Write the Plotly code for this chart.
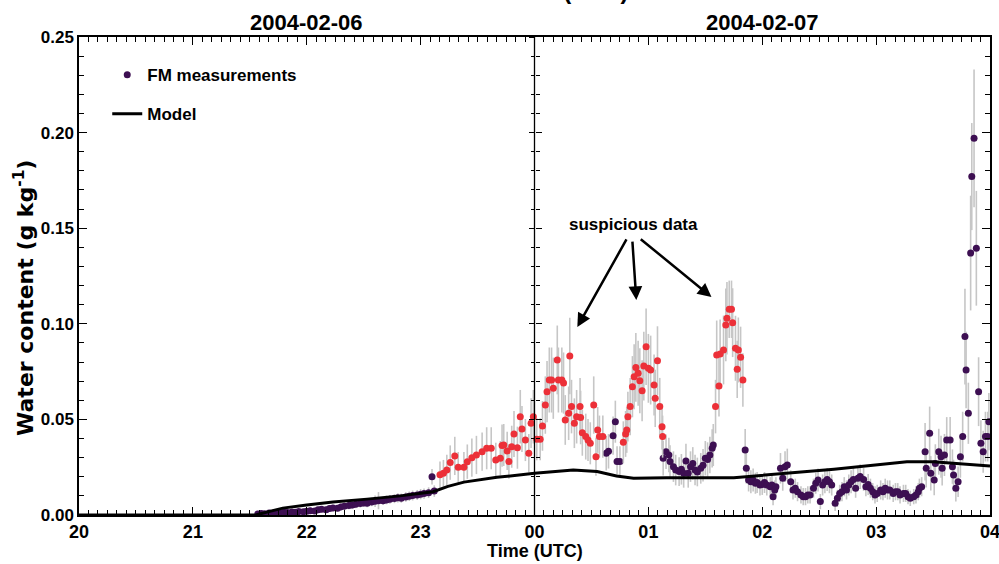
import plotly.graph_objects as go

# ---------------- data ----------------
# time in hours after 2004-02-06 00:00 UTC (24 = 2004-02-07 00:00)
fm_time = [
    21.57, 21.60, 21.63, 21.67, 21.70, 21.73, 21.77, 21.80, 21.83, 21.87, 21.90, 21.93, 21.97,
    22.00, 22.03, 22.07, 22.10, 22.13, 22.17, 22.20, 22.23, 22.27, 22.30, 22.33, 22.37, 22.40,
    22.43, 22.47, 22.50, 22.53, 22.57, 22.60, 22.63, 22.67, 22.70, 22.73, 22.77, 22.80, 22.83,
    22.87, 22.90, 22.93, 22.97, 23.00, 23.03, 23.07, 23.10, 23.12,
    24.63, 24.65, 24.69, 24.71, 24.725, 24.75,
    25.13, 25.155, 25.18, 25.19, 25.22, 25.24, 25.27, 25.29, 25.31, 25.33, 25.35, 25.37, 25.39,
    25.41, 25.43, 25.46, 25.48, 25.50, 25.52, 25.54, 25.56, 25.57,
    25.85, 25.86, 25.88, 25.90, 25.92, 25.94, 25.955, 25.98, 26.00, 26.02, 26.04, 26.07, 26.085,
    26.095, 26.11, 26.12, 26.16, 26.18, 26.20, 26.22, 26.25, 26.27, 26.29, 26.31, 26.34, 26.36,
    26.38, 26.40, 26.42, 26.45, 26.47, 26.49, 26.51, 26.53, 26.55, 26.57, 26.59, 26.61, 26.64,
    26.66, 26.68, 26.70, 26.72, 26.74, 26.76, 26.78, 26.80, 26.82, 26.84, 26.86, 26.89, 26.91,
    26.93, 26.95, 26.97, 26.99, 27.01, 27.04, 27.06, 27.08, 27.10, 27.12, 27.15, 27.17, 27.19,
    27.21, 27.24, 27.26, 27.28, 27.30, 27.33, 27.35, 27.37, 27.38, 27.40, 27.43, 27.44, 27.47,
    27.48, 27.51, 27.52, 27.55, 27.57, 27.58, 27.60, 27.62, 27.65, 27.67, 27.68, 27.70, 27.72,
    27.74, 27.76, 27.78, 27.79, 27.81, 27.83, 27.84, 27.86, 27.88, 27.90, 27.92, 27.94, 27.96,
    27.98, 27.99,
]
fm_water = [
    0.0005, 0.0008, 0.0006, 0.0010, 0.0009, 0.0012, 0.0011, 0.0014, 0.0013, 0.0016, 0.0015, 0.0018, 0.0017,
    0.0020, 0.0022, 0.0021, 0.0027, 0.0030, 0.0028, 0.0034, 0.0037, 0.0035, 0.0042, 0.0046, 0.0050, 0.0052,
    0.0056, 0.0060, 0.0063, 0.0061, 0.0068, 0.0072, 0.0075, 0.0074, 0.0079, 0.0082, 0.0086, 0.0090, 0.0088,
    0.0094, 0.0098, 0.0102, 0.0105, 0.0109, 0.0112, 0.0117, 0.0200, 0.0125,
    0.0323, 0.0333, 0.0415, 0.0488, 0.0280, 0.0280,
    0.0297, 0.0331, 0.0314, 0.0280, 0.0253, 0.0235, 0.0227, 0.0239, 0.0218, 0.0282, 0.0218, 0.0253, 0.0270,
    0.0235, 0.0225, 0.0244, 0.0260, 0.0297, 0.0290, 0.0314, 0.0349, 0.0366,
    0.0340, 0.0244, 0.0183, 0.0174, 0.0183, 0.0166, 0.0170, 0.0157, 0.0160, 0.0170, 0.0157, 0.0148, 0.0157,
    0.0096, 0.0131, 0.0148, 0.0244, 0.0192, 0.0253, 0.0262, 0.0174, 0.0131, 0.0140, 0.0122, 0.0105, 0.0096,
    0.0096, 0.0105, 0.0105, 0.0140, 0.0166, 0.0183, 0.0070, 0.0157, 0.0174, 0.0186, 0.0174, 0.0157, 0.0061,
    0.0087, 0.0113, 0.0122, 0.0148, 0.0131, 0.0157, 0.0174, 0.0186, 0.0140, 0.0192, 0.0201, 0.0186, 0.0148,
    0.0160, 0.0140, 0.0122, 0.0105, 0.0113, 0.0131, 0.0122, 0.0140, 0.0131, 0.0131, 0.0113, 0.0122, 0.0122,
    0.0105, 0.0113, 0.0113, 0.0096, 0.0087, 0.0096, 0.0105, 0.0122, 0.0140, 0.0148, 0.0331, 0.0244, 0.0427,
    0.0218, 0.0183, 0.0270, 0.0331, 0.0305, 0.0244, 0.0314, 0.0392, 0.0392, 0.0253, 0.0209, 0.0140, 0.0174,
    0.0305, 0.0410, 0.0933, 0.0758, 0.0532, 0.1370, 0.1770, 0.1970, 0.1395, 0.0645, 0.0375, 0.0331, 0.0410,
    0.0410, 0.0488,
]
fm_error = [
    0.0012, 0.0012, 0.0012, 0.0012, 0.0012, 0.0013, 0.0013, 0.0013, 0.0014, 0.0014, 0.0014, 0.0015, 0.0015,
    0.0016, 0.0016, 0.0016, 0.0017, 0.0017, 0.0017, 0.0018, 0.0018, 0.0018, 0.0019, 0.0019, 0.0020, 0.0020,
    0.0020, 0.0021, 0.0021, 0.0021, 0.0022, 0.0030, 0.0045, 0.0022, 0.0023, 0.0023, 0.0024, 0.0024, 0.0024,
    0.0025, 0.0025, 0.0026, 0.0026, 0.0027, 0.0027, 0.0028, 0.0040, 0.0030,
    0.0090, 0.0090, 0.0100, 0.0110, 0.0080, 0.0080,
    0.0090, 0.0090, 0.0090, 0.0085, 0.0080, 0.0080, 0.0075, 0.0080, 0.0075, 0.0090, 0.0075, 0.0080, 0.0085,
    0.0080, 0.0075, 0.0080, 0.0085, 0.0090, 0.0090, 0.0095, 0.0100, 0.0110,
    0.0110, 0.0080, 0.0060, 0.0060, 0.0060, 0.0055, 0.0055, 0.0055, 0.0055, 0.0055, 0.0055, 0.0050, 0.0055,
    0.0045, 0.0050, 0.0050, 0.0080, 0.0065, 0.0080, 0.0085, 0.0060, 0.0050, 0.0050, 0.0050, 0.0045, 0.0045,
    0.0045, 0.0045, 0.0045, 0.0050, 0.0055, 0.0060, 0.0040, 0.0055, 0.0060, 0.0060, 0.0060, 0.0055, 0.0040,
    0.0045, 0.0045, 0.0050, 0.0050, 0.0050, 0.0055, 0.0060, 0.0060, 0.0050, 0.0060, 0.0065, 0.0060, 0.0050,
    0.0055, 0.0050, 0.0045, 0.0045, 0.0045, 0.0050, 0.0045, 0.0050, 0.0050, 0.0050, 0.0045, 0.0045, 0.0045,
    0.0045, 0.0045, 0.0045, 0.0040, 0.0040, 0.0040, 0.0045, 0.0045, 0.0050, 0.0050, 0.0150, 0.0100, 0.0140,
    0.0090, 0.0080, 0.0100, 0.0120, 0.0110, 0.0090, 0.0110, 0.0120, 0.0120, 0.0090, 0.0080, 0.0070, 0.0080,
    0.0110, 0.0130, 0.0250, 0.0200, 0.0160, 0.0300, 0.0280, 0.0360, 0.0300, 0.0180, 0.0120, 0.0110, 0.0130,
    0.0130, 0.0150,
]

susp_time = [
    23.17, 23.20, 23.23, 23.26, 23.30, 23.33, 23.38, 23.41, 23.45, 23.49, 23.54, 23.58, 23.62, 23.66,
    23.70, 23.715, 23.73, 23.76, 23.775, 23.80, 23.82, 23.85, 23.875, 23.89, 23.92, 23.95, 23.97, 23.99,
    24.02, 24.05, 24.07, 24.095, 24.11, 24.13, 24.15, 24.165, 24.20, 24.21, 24.24, 24.255, 24.27, 24.30,
    24.31, 24.325, 24.35, 24.37, 24.40, 24.405, 24.42, 24.45, 24.47, 24.49, 24.52, 24.54, 24.555, 24.57,
    24.60,
    24.78, 24.80, 24.81, 24.82, 24.84, 24.86, 24.875, 24.89, 24.91, 24.925, 24.945, 24.96, 24.98, 25.00,
    25.02, 25.05, 25.06, 25.08, 25.10, 25.12, 25.125,
    25.59, 25.60, 25.62, 25.63, 25.66, 25.68, 25.69, 25.71, 25.73, 25.74, 25.765, 25.78, 25.79, 25.81,
    25.83,
]
susp_water = [
    0.0210, 0.0218, 0.0235, 0.0274, 0.0309, 0.0250, 0.0250, 0.0279, 0.0300, 0.0314, 0.0331, 0.0349, 0.0349, 0.0288,
    0.0297, 0.0363, 0.0366, 0.0335, 0.0280, 0.0357, 0.0424, 0.0352, 0.0514, 0.0450, 0.0392, 0.0323, 0.0480, 0.0514,
    0.0396, 0.0396, 0.0466, 0.0575, 0.0645, 0.0706, 0.0706, 0.0663, 0.0811, 0.0706, 0.0706, 0.0690, 0.0497, 0.0532,
    0.0832, 0.0567, 0.0480, 0.0514, 0.0567, 0.0510, 0.0430, 0.0410, 0.0392, 0.0375, 0.0575, 0.0305, 0.0445, 0.0410,
    0.0410,
    0.0380, 0.0424, 0.0445, 0.0514, 0.0567, 0.0671, 0.0723, 0.0772, 0.0741, 0.0702, 0.0650, 0.0779, 0.0880, 0.0767,
    0.0758, 0.0680, 0.0610, 0.0807, 0.0567, 0.0462, 0.0410,
    0.0567, 0.0837, 0.0675, 0.0842, 0.0863, 0.0994, 0.1029, 0.1076, 0.1076, 0.1006, 0.0872, 0.0762, 0.0863, 0.0825,
    0.0706,
]
susp_error = [
    0.0070, 0.0070, 0.0080, 0.0090, 0.0100, 0.0080, 0.0080, 0.0090, 0.0100, 0.0100, 0.0100, 0.0110, 0.0110, 0.0090,
    0.0090, 0.0110, 0.0110, 0.0100, 0.0090, 0.0110, 0.0120, 0.0110, 0.0140, 0.0120, 0.0110, 0.0100, 0.0130, 0.0140,
    0.0110, 0.0110, 0.0130, 0.0150, 0.0160, 0.0170, 0.0170, 0.0160, 0.0180, 0.0170, 0.0170, 0.0160, 0.0130, 0.0140,
    0.0200, 0.0140, 0.0130, 0.0140, 0.0150, 0.0140, 0.0120, 0.0120, 0.0110, 0.0110, 0.0150, 0.0100, 0.0120, 0.0110,
    0.0110,
    0.0110, 0.0120, 0.0120, 0.0130, 0.0150, 0.0160, 0.0170, 0.0180, 0.0170, 0.0170, 0.0160, 0.0180, 0.0200, 0.0180,
    0.0180, 0.0160, 0.0150, 0.0180, 0.0150, 0.0120, 0.0110,
    0.0140, 0.0180, 0.0160, 0.0180, 0.0180, 0.0190, 0.0190, 0.0150, 0.0150, 0.0180, 0.0170, 0.0150, 0.0170, 0.0160,
    0.0140,
]

model_time = [20.00, 21.55, 21.65, 21.79, 22.00, 22.23, 22.53, 22.82, 23.11, 23.24, 23.38, 23.67,
              24.00, 24.20, 24.34, 24.55, 24.72, 24.87, 25.16, 25.75, 26.04, 26.63, 27.27, 27.50, 28.00]
model_water = [0.0, 0.0, 0.0015, 0.0036, 0.0052, 0.0068, 0.0083, 0.0100, 0.0122, 0.0150, 0.0172, 0.0197,
               0.0218, 0.0230, 0.0235, 0.0227, 0.0204, 0.0192, 0.0195, 0.0195, 0.0209, 0.0239, 0.0278, 0.0278, 0.0256]

hour_ticks = [20, 21, 22, 23, 24, 25, 26, 27, 28]
hour_labels = ["20", "21", "22", "23", "00", "01", "02", "03", "04"]
y_ticks = [0.0, 0.05, 0.10, 0.15, 0.20, 0.25]
y_labels = ["0.00", "0.05", "0.10", "0.15", "0.20", "0.25"]
date_labels = [(22, "2004-02-06"), (26, "2004-02-07")]

# ---------------- styles ----------------
FONT = "Liberation Sans, Arial, sans-serif"
YT_FONT = "DejaVu Sans, Liberation Sans, sans-serif"
PURPLE = "#3d0f52"
RED = "#ec3038"
GREY = "#c6c6c6"

fig = go.Figure()
fig.add_trace(go.Scatter(
    x=fm_time, y=fm_water, mode="markers", name="FM measurements", legendgroup="fm",
    marker=dict(color=PURPLE, size=7),
    error_y=dict(type="data", array=fm_error, color=GREY, thickness=1.6, width=0),
))
fig.add_trace(go.Scatter(
    x=susp_time, y=susp_water, mode="markers", showlegend=False,
    marker=dict(color=RED, size=7),
    error_y=dict(type="data", array=susp_error, color=GREY, thickness=1.6, width=0),
))
fig.add_trace(go.Scatter(
    x=model_time, y=model_water, mode="lines", name="Model", legendgroup="model",
    line=dict(color="black", width=3),
))
# invisible traces so the midnight tick axes are drawn
for ax in ("y2", "y3"):
    fig.add_trace(go.Scatter(x=[None], y=[None], yaxis=ax, showlegend=False, hoverinfo="skip"))

minor_x = [20 + i / 12 for i in range(0, 97)]
minor_y = [i / 100 for i in range(0, 26)]

fig.update_layout(
    width=999, height=564,
    margin=dict(l=79, r=9, t=37, b=49, autoexpand=False),
    paper_bgcolor="white", plot_bgcolor="white",
    font=dict(family=FONT, color="black", weight="bold"),
    xaxis=dict(
        range=[20, 28], tickmode="array", tickvals=hour_ticks, ticktext=hour_labels,
        ticks="inside", ticklen=8, tickwidth=1.3, tickcolor="black",
        minor=dict(tickmode="array", tickvals=minor_x, ticks="inside", ticklen=5, tickwidth=1, tickcolor="black"),
        showline=True, linecolor="black", linewidth=1.5, mirror="ticks",
        showgrid=False, zeroline=False, ticklabeloverflow="allow", automargin=False,
        tickfont=dict(family=FONT, size=18, color="black", weight="bold"),
    ),
    yaxis=dict(
        range=[0, 0.25], tickmode="array", tickvals=y_ticks, ticktext=y_labels,
        ticks="inside", ticklen=8, tickwidth=1.3, tickcolor="black",
        minor=dict(tickmode="array", tickvals=minor_y, ticks="inside", ticklen=5, tickwidth=1, tickcolor="black"),
        showline=True, linecolor="black", linewidth=1.5, mirror="ticks",
        showgrid=False, zeroline=False, ticklabeloverflow="allow", automargin=False,
        tickfont=dict(family=FONT, size=17, color="black", weight="bold"),
    ),
    yaxis2=dict(
        overlaying="y", anchor="free", position=0.5, range=[0, 0.25],
        tickmode="array", tickvals=y_ticks, showticklabels=False,
        ticks="outside", ticklen=6, tickwidth=1.3, tickcolor="black",
        minor=dict(tickmode="array", tickvals=minor_y, ticks="outside", ticklen=4, tickwidth=1, tickcolor="black"),
        showline=False, showgrid=False, zeroline=False, automargin=False,
    ),
    yaxis3=dict(
        overlaying="y", anchor="free", position=0.5, range=[0, 0.25],
        tickmode="array", tickvals=y_ticks, showticklabels=False,
        ticks="inside", ticklen=6, tickwidth=1.3, tickcolor="black",
        minor=dict(tickmode="array", tickvals=minor_y, ticks="inside", ticklen=4, tickwidth=1, tickcolor="black"),
        showline=False, showgrid=False, zeroline=False, automargin=False,
    ),
    showlegend=True,
    legend=dict(
        x=0.031, y=0.958, xanchor="left", yanchor="top",
        bgcolor="rgba(0,0,0,0)", borderwidth=0, tracegroupgap=14,
        font=dict(family=FONT, size=17, color="black", weight="bold"),
    ),
)

# midnight separator line
fig.add_shape(type="line", x0=24, x1=24, xref="x", y0=0, y1=1, yref="paper",
              line=dict(color="black", width=1.3))

# date labels
for xd, txt in date_labels:
    fig.add_annotation(x=xd, xref="x", y=1.031, yref="paper", text=txt, showarrow=False,
                       yanchor="middle", font=dict(family=FONT, size=22, color="black", weight="bold"))

# top (cropped) axis title
fig.add_annotation(x=0.533, xref="paper", y=1.064, yref="paper", text="Time (UTC)", showarrow=False,
                   yanchor="bottom", font=dict(family=FONT, size=24, color="black", weight="bold"))
# bottom axis title
fig.add_annotation(x=24, xref="x", y=-0.076, yref="paper", text="Time (UTC)", showarrow=False,
                   yanchor="middle", font=dict(family=FONT, size=18, color="black", weight="bold"))
# y axis title
fig.add_annotation(x=-0.0604, xref="paper", y=0.454, yref="paper", text="Water content (g kg<sup>-1</sup>)",
                   showarrow=False, textangle=-90, xanchor="center", yanchor="middle",
                   font=dict(family=YT_FONT, size=22, color="black", weight="bold"))

# suspicious data annotation
fig.add_annotation(x=24.87, xref="x", y=0.152, yref="y", text="suspicious data", showarrow=False,
                   font=dict(family=FONT, size=17, color="black", weight="bold"))
arrows = [((24.815, 0.1449), (24.376, 0.0983)),
          ((24.859, 0.1438), (24.894, 0.1124)),
          ((24.92, 0.1449), (25.554, 0.1140))]
for (tx, ty), (hx, hy) in arrows:
    fig.add_annotation(x=hx, y=hy, xref="x", yref="y", ax=tx, ay=ty, axref="x", ayref="y",
                       text="", showarrow=True, arrowhead=2, arrowsize=1.1, arrowwidth=2.5,
                       arrowcolor="black", standoff=0)

fig.write_html("out.html")
